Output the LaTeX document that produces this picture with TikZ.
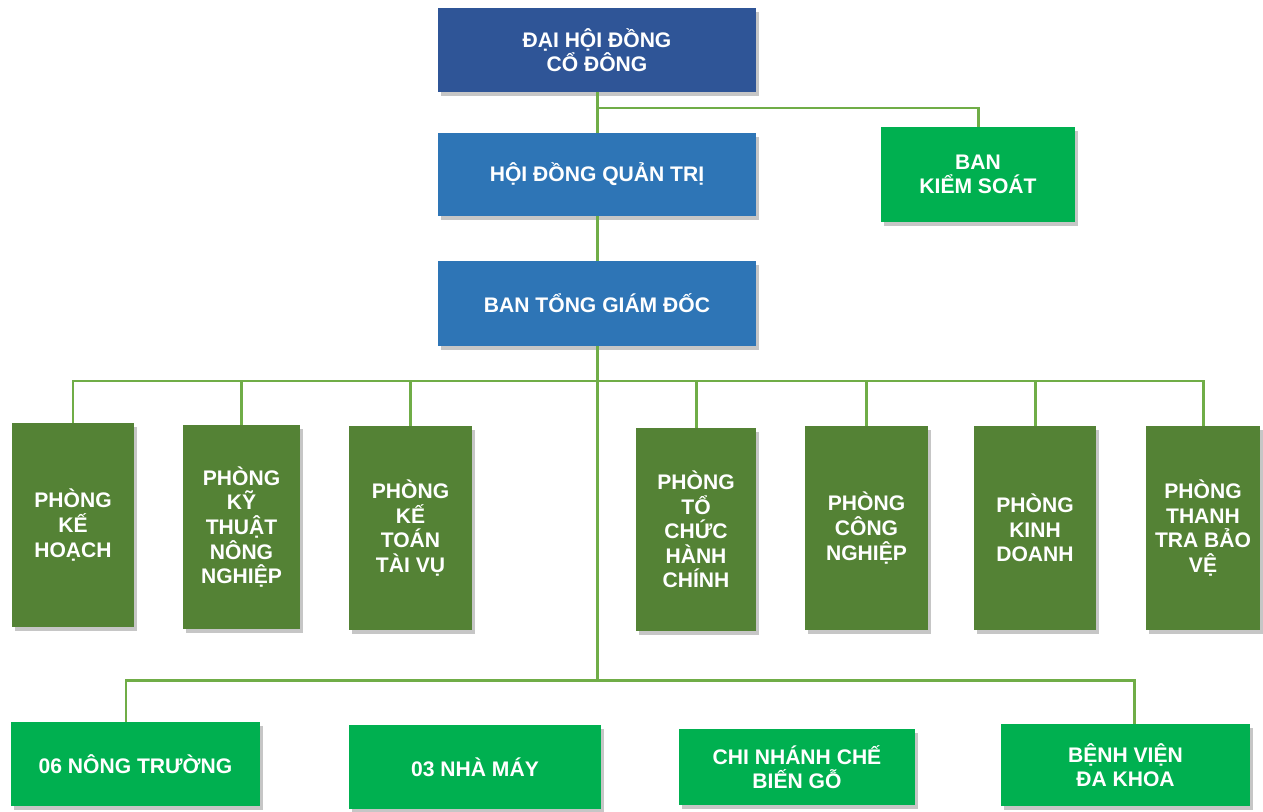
\documentclass[tikz,border=0pt]{standalone}
\usepackage{fontspec}
\setmainfont{Liberation Sans}
\usetikzlibrary{shadows}
\usetikzlibrary{calc}
\definecolor{darkblue}{HTML}{2F5597}
\definecolor{midblue}{HTML}{2E75B6}
\definecolor{brightgreen}{HTML}{00B050}
\definecolor{olivegreen}{HTML}{548235}
\definecolor{linkgreen}{HTML}{70AD47}
\tikzset{
	unit/.style n args={3}{
		draw=none, fill=#1, minimum width=#2*0.02cm, minimum height=#3*0.02cm,
		inner sep=0pt, align=center, text=white,
		font=\fontsize{12}{14}\selectfont\bfseries,
		drop shadow={opacity=0.45, shadow xshift=1.6pt, shadow yshift=-2pt}
	},
	link/.style={draw=linkgreen, line width=1.7pt}
}
\begin{document}
\begin{tikzpicture}[x=0.02cm, y=-0.02cm]

	\useasboundingbox (0, 0) rectangle (1263, 811);

	% top
	\node[unit={darkblue}{318}{84}] (dhdcd) at (597, 50) {ĐẠI HỘI ĐỒNG\\CỔ ĐÔNG};
	\node[unit={midblue}{318}{83}] (hdqt) at (597, 174.5) {HỘI ĐỒNG QUẢN TRỊ};
	\node[unit={midblue}{318}{85}] (btgd) at (597, 303.5) {BAN TỔNG GIÁM ĐỐC};
	\node[unit={brightgreen}{194}{95}] (bks) at (978, 174.5) {BAN\\KIỂM SOÁT};

	% departments
	\node[unit={olivegreen}{122}{204}] (p1) at (73, 525) {PHÒNG\\KẾ\\HOẠCH};
	\node[unit={olivegreen}{117}{204}] (p2) at (241.5, 527) {PHÒNG\\KỸ\\THUẬT\\NÔNG\\NGHIỆP};
	\node[unit={olivegreen}{123}{204}] (p3) at (410.5, 528) {PHÒNG\\KẾ\\TOÁN\\TÀI VỤ};
	\node[unit={olivegreen}{120}{203}] (p4) at (696, 529.5) {PHÒNG\\TỔ\\CHỨC\\HÀNH\\CHÍNH};
	\node[unit={olivegreen}{123}{204}] (p5) at (866.5, 528) {PHÒNG\\CÔNG\\NGHIỆP};
	\node[unit={olivegreen}{122}{204}] (p6) at (1035, 528) {PHÒNG\\KINH\\DOANH};
	\node[unit={olivegreen}{114}{204}] (p7) at (1203, 528) {PHÒNG\\THANH\\TRA BẢO\\VỆ};

	% units
	\node[unit={brightgreen}{249}{84}] (b1) at (135.5, 764) {06 NÔNG TRƯỜNG};
	\node[unit={brightgreen}{252}{84}] (b2) at (475, 767) {03 NHÀ MÁY};
	\node[unit={brightgreen}{236}{76}] (b3) at (797, 767) {CHI NHÁNH CHẾ\\BIẾN GỖ};
	\node[unit={brightgreen}{249}{82}] (b4) at (1125.5, 765) {BỆNH VIỆN\\ĐA KHOA};

	\coordinate (ksbus) at (597, 108);
	\coordinate (pbus) at (597, 381);
	\coordinate (bbus) at (597, 680);
	\coordinate (b1top) at ($(b1.north)+(-9.5, 0)$);
	\coordinate (b4top) at ($(b4.north)+(8.5, 0)$);

	\draw[link] (dhdcd) -- (hdqt);
	\draw[link] (ksbus) -| (bks);
	\draw[link] (hdqt) -- (btgd);
	\draw[link] (btgd) -- (bbus);

	\foreach \p in {p1, p2, p3, p4, p5, p6, p7}
		\draw[link] (pbus) -| (\p);

	\draw[link] (bbus) -| (b1top);
	\draw[link] (bbus) -| (b4top);

\end{tikzpicture}
\end{document}
